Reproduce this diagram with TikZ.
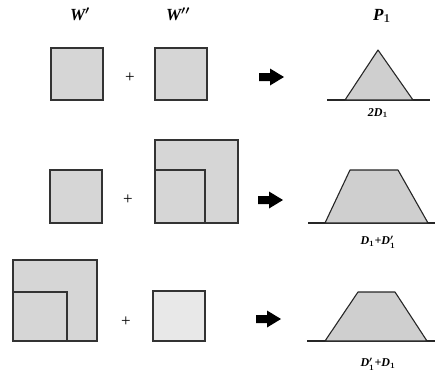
\documentclass[tikz,border=0pt]{standalone}
\usepackage{fontspec}
\setmainfont{Liberation Serif}
\begin{document}
\begin{tikzpicture}[x=1pt,y=-1pt,
  sq/.style={draw=black!80,line width=1.1pt,fill=gray!32},
  prof/.style={draw=black!85,line width=1.1pt,fill=gray!38,line join=round},
  base/.style={draw=black!85,line width=1.1pt},
  blk/.style={fill=black},
  hdr/.style={font=\fontsize{17}{19}\selectfont\bfseries\itshape\boldmath},
  lbl/.style={font=\fontsize{12}{14}\selectfont\bfseries\itshape\boldmath},
  plus/.style={font=\fontsize{17}{19}\selectfont}]
\useasboundingbox (0,0) rectangle (436,373);
% headers
\node[hdr] (hW1) at (80,14) {W$'$};
\node[hdr] (hW2) at (178,14) {W$''$};
\node[hdr] (hP) at (382,16) {P$_1$};
% row 1
\draw[sq] (51,48) rectangle (103,100);
\node[plus] (p1) at (130,78) {+};
\draw[sq] (155,48) rectangle (207,100);
\fill[blk] (259,73) -- (270,73) -- (270,68.5) -- (284,77) -- (270,85.5) -- (270,81) -- (259,81) -- cycle;
\draw[base] (327,100) -- (430,100);
\draw[prof] (345,100) -- (378,50) -- (413,100) -- cycle;
\node[lbl] (l1) at (378,113) {2D$_1$};
% row 2
\draw[sq] (50,170) rectangle (102,223);
\node[plus] (p2) at (128,200) {+};
\draw[sq] (155,140) rectangle (238,223);
\draw[sq] (155,170) rectangle (205,223);
\fill[blk] (258,196) -- (269,196) -- (269,191.5) -- (283,200) -- (269,208.5) -- (269,204) -- (258,204) -- cycle;
\draw[base] (308,223) -- (435,223);
\draw[prof] (325,223) -- (350,170) -- (398,170) -- (428,223) -- cycle;
\node[lbl] (l2) at (378,242) {D$_1$+D$_1'$};
% row 3
\draw[sq] (13,260) rectangle (97,341);
\draw[sq] (13,292) rectangle (67,341);
\node[plus] (p3) at (126,322) {+};
\draw[sq,fill=gray!18] (153,291) rectangle (205,341);
\fill[blk] (256,315) -- (267,315) -- (267,310.5) -- (281,319) -- (267,327.5) -- (267,323) -- (256,323) -- cycle;
\draw[base] (307,341) -- (435,341);
\draw[prof] (325,341) -- (358,292) -- (395,292) -- (427,341) -- cycle;
\node[lbl] (l3) at (378,364) {D$_1'$+D$_1$};
\end{tikzpicture}
\end{document}
